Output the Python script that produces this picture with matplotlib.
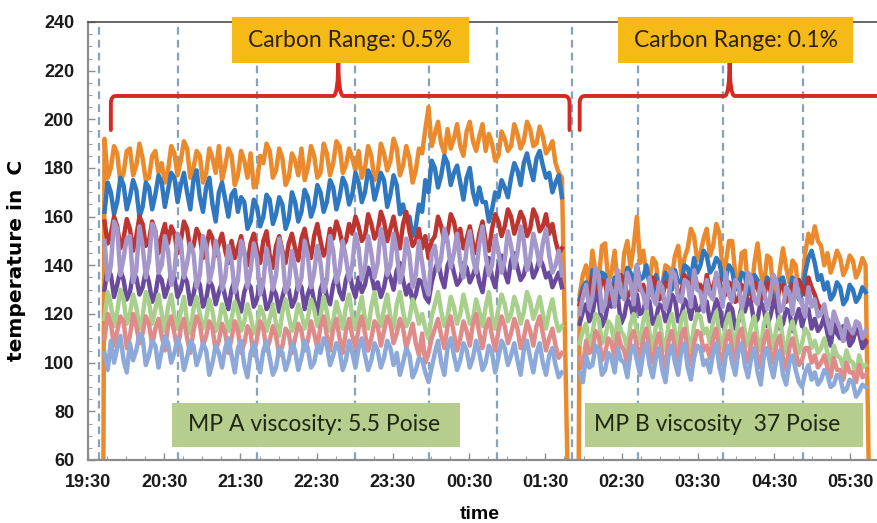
import matplotlib
matplotlib.use("Agg")
import pandas as pd
import matplotlib.pyplot as plt
import matplotlib.dates as mdates
from matplotlib.patches import Rectangle, PathPatch
from matplotlib.path import Path

# temperatures, every 2.5 min
# run A: 19:43 .. 01:43, run B: 01:57 .. 05:42
A_START = "19:43"
B_START = "01:57"
STEP = "150s"

A_ORANGE = [192, 176, 180, 189, 186, 174, 178, 187, 188, 177, 181, 190, 184, 175, 176, 185, 187, 178, 182, 174,
            179, 189, 186, 177, 183, 191, 188, 176, 180, 187, 185, 174, 178, 188, 184, 178, 189, 175, 181, 188,
            185, 173, 177, 187, 183, 176, 186, 172, 174, 185, 182, 190, 187, 176, 179, 188, 184, 173, 176, 186,
            183, 177, 188, 175, 180, 189, 185, 176, 178, 190, 186, 177, 182, 191, 189, 178, 181, 188, 184, 179,
            187, 176, 180, 189, 185, 175, 178, 190, 186, 179, 183, 192, 188, 177, 181, 189, 184, 174, 179, 188,
            186, 196, 205, 189, 194, 199, 190, 186, 196, 188, 192, 198, 189, 185, 195, 199, 191, 187, 193, 198,
            187, 194, 190, 183, 185, 195, 192, 187, 189, 198, 194, 188, 191, 199, 196, 189, 190, 197, 193, 186,
            188, 191, 182, 178, 176]
A_BLUE = [162, 174, 170, 161, 166, 176, 173, 163, 168, 175, 171, 160, 164, 174, 172, 163, 169, 177, 174, 164,
          171, 178, 176, 166, 173, 178, 170, 163, 175, 179, 168, 162, 172, 176, 165, 158, 170, 174, 167, 160,
          169, 171, 162, 168, 166, 155, 158, 167, 164, 156, 160, 169, 167, 157, 161, 168, 165, 155, 159, 170,
          166, 158, 162, 171, 168, 160, 164, 173, 170, 162, 166, 175, 172, 163, 168, 176, 173, 165, 169, 178,
          174, 166, 170, 179, 176, 167, 172, 178, 175, 164, 169, 177, 173, 161, 165, 158, 160, 152, 156, 165,
          162, 175, 170, 183, 180, 172, 177, 185, 182, 173, 178, 181, 174, 167, 176, 180, 170, 165, 172, 166,
          166, 158, 163, 170, 168, 175, 172, 168, 176, 182, 179, 173, 182, 186, 180, 175, 184, 187, 181, 176,
          178, 170, 174, 177, 168]
A_RED = [158, 149, 153, 160, 156, 147, 151, 159, 155, 146, 152, 160, 157, 148, 150, 158, 154, 145, 152, 157,
         149, 156, 153, 145, 150, 158, 155, 146, 148, 155, 152, 143, 147, 154, 151, 144, 149, 153, 146, 141,
         150, 143, 147, 152, 145, 140, 149, 153, 146, 141, 150, 154, 144, 139, 148, 152, 146, 141, 149, 153,
         147, 142, 151, 155, 148, 143, 152, 157, 150, 144, 147, 155, 151, 158, 154, 148, 150, 157, 153, 160,
         156, 150, 152, 161, 157, 151, 154, 162, 158, 150, 155, 160, 153, 147, 157, 162, 154, 148, 150, 155,
         147, 152, 143, 150, 152, 160, 156, 150, 153, 161, 158, 151, 155, 147, 151, 156, 149, 145, 153, 158,
         150, 146, 155, 161, 158, 152, 156, 163, 160, 153, 157, 162, 159, 152, 155, 163, 160, 154, 156, 161,
         153, 157, 150, 145, 147]
A_PURPLE = [130, 139, 136, 127, 132, 138, 134, 126, 129, 137, 135, 128, 131, 138, 133, 125, 128, 136, 134, 127,
            131, 137, 135, 127, 130, 136, 133, 124, 128, 135, 132, 123, 126, 134, 131, 124, 129, 133, 127, 122,
            130, 134, 125, 121, 129, 133, 131, 123, 126, 134, 130, 122, 124, 131, 128, 121, 127, 132, 130, 123,
            126, 133, 131, 122, 128, 132, 125, 120, 130, 134, 127, 124, 132, 136, 129, 126, 134, 138, 131, 127,
            135, 129, 132, 139, 136, 130, 133, 127, 131, 138, 135, 130, 138, 141, 134, 128, 132, 125, 128, 134,
            133, 127, 125, 133, 138, 142, 135, 131, 140, 143, 137, 132, 134, 141, 139, 133, 136, 140, 133, 129,
            138, 143, 135, 131, 140, 144, 137, 133, 142, 145, 139, 134, 136, 142, 141, 135, 138, 143, 140, 135,
            137, 131, 134, 137, 131]
A_LAVENDER = [150, 134, 140, 158, 155, 136, 143, 151, 152, 133, 138, 156, 148, 135, 142, 157, 154, 137, 140, 152,
              146, 132, 137, 153, 150, 135, 141, 149, 145, 131, 136, 152, 148, 133, 139, 150, 144, 130, 135, 148,
              142, 129, 134, 150, 146, 131, 138, 149, 143, 128, 133, 147, 140, 130, 136, 151, 145, 129, 132, 146,
              139, 130, 135, 150, 144, 131, 137, 148, 141, 129, 134, 152, 146, 133, 138, 150, 143, 134, 140, 153,
              147, 134, 139, 152, 145, 135, 141, 155, 149, 136, 140, 153, 146, 133, 138, 151, 144, 131, 136, 150,
              141, 132, 128, 145, 148, 138, 143, 155, 150, 139, 145, 153, 141, 135, 147, 154, 143, 137, 149, 156,
              144, 136, 140, 152, 146, 137, 142, 154, 148, 139, 145, 156, 150, 138, 143, 153, 147, 140, 149, 155,
              144, 137, 140, 146, 136]
A_GREEN = [118, 129, 124, 115, 121, 130, 126, 116, 120, 128, 123, 114, 119, 129, 125, 116, 122, 128, 120, 113,
           123, 128, 119, 114, 121, 127, 117, 112, 122, 127, 120, 114, 118, 126, 121, 113, 116, 124, 120, 113,
           118, 125, 121, 113, 117, 124, 119, 112, 115, 123, 120, 113, 118, 124, 116, 111, 121, 126, 119, 113,
           117, 124, 120, 114, 118, 126, 122, 115, 119, 127, 121, 113, 117, 125, 120, 114, 123, 128, 119, 114,
           121, 127, 118, 114, 123, 129, 120, 115, 122, 128, 119, 114, 124, 129, 121, 115, 118, 126, 122, 116,
           120, 114, 110, 119, 124, 129, 121, 115, 119, 127, 123, 116, 120, 128, 122, 116, 118, 126, 121, 115,
           123, 129, 119, 114, 122, 128, 124, 117, 120, 127, 123, 116, 121, 129, 125, 118, 122, 127, 120, 114,
           121, 126, 118, 113, 115]
A_PINK = [110, 120, 116, 107, 113, 119, 117, 106, 111, 120, 115, 108, 112, 119, 116, 107, 114, 118, 111, 105,
          115, 119, 112, 105, 114, 118, 110, 104, 113, 119, 116, 107, 111, 117, 114, 105, 109, 116, 112, 104,
          110, 117, 113, 104, 108, 115, 112, 103, 110, 117, 114, 105, 109, 115, 111, 103, 107, 114, 112, 104,
          110, 116, 113, 105, 109, 117, 112, 106, 115, 119, 111, 105, 114, 118, 110, 104, 113, 118, 111, 106,
          114, 119, 112, 105, 110, 117, 115, 107, 113, 119, 116, 108, 112, 118, 114, 106, 111, 116, 108, 103,
          112, 100, 104, 110, 114, 118, 111, 106, 115, 119, 112, 105, 110, 117, 113, 107, 116, 120, 112, 106,
          114, 118, 111, 105, 113, 119, 115, 108, 112, 118, 114, 106, 110, 117, 113, 107, 115, 119, 112, 105,
          110, 114, 107, 102, 104]
A_LIGHTBLUE = [104, 97, 109, 100, 106, 111, 101, 96, 108, 101, 105, 112, 110, 99, 103, 109, 107, 98, 105, 111,
               108, 100, 104, 110, 106, 97, 102, 109, 107, 99, 103, 108, 105, 95, 100, 107, 104, 98, 106, 110,
               103, 96, 106, 109, 99, 94, 104, 108, 101, 96, 105, 109, 102, 95, 98, 106, 104, 97, 101, 108,
               105, 97, 102, 109, 106, 98, 100, 107, 104, 110, 107, 99, 103, 108, 105, 97, 101, 109, 104, 98,
               106, 110, 103, 97, 101, 108, 105, 98, 102, 109, 106, 99, 104, 95, 100, 106, 103, 94, 97, 102,
               101, 96, 92, 98, 104, 109, 100, 95, 106, 110, 103, 97, 101, 108, 105, 98, 102, 109, 104, 97,
               100, 107, 104, 96, 102, 109, 106, 99, 103, 108, 101, 95, 105, 109, 102, 96, 104, 108, 100, 95,
               103, 106, 99, 94, 96]

B_ORANGE = [128, 136, 140, 131, 146, 137, 134, 148, 149, 133, 137, 146, 131, 128, 145, 150, 139, 148, 160, 141,
            146, 136, 134, 143, 141, 129, 132, 140, 139, 135, 144, 148, 136, 143, 147, 155, 152, 142, 145, 151,
            155, 144, 148, 157, 153, 138, 141, 150, 150, 136, 132, 145, 146, 130, 128, 141, 149, 137, 131, 144,
            143, 129, 126, 138, 147, 139, 133, 142, 140, 127, 130, 145,
            153, 149, 156, 150, 148, 140, 145, 137, 141, 146, 143, 136, 139, 144, 142, 135, 138, 143, 140]
B_BLUE = [126, 131, 133, 127, 138, 132, 131, 137, 136, 128, 129, 135, 134, 127, 130, 139, 137, 132, 140, 134,
          135, 140, 132, 128, 136, 131, 130, 137, 134, 130, 138, 133, 133, 140, 139, 134, 143, 137, 140, 146,
          144, 137, 139, 143, 141, 134, 135, 140, 138, 130, 131, 137, 136, 128, 130, 136, 134, 127, 129, 135,
          133, 126, 127, 134, 135, 129, 130, 135, 132, 126, 128, 137,
          143, 146, 141, 134, 136, 130, 133, 126, 128, 133, 131, 124, 126, 132, 130, 125, 127, 131, 129]
B_RED = [124, 129, 131, 126, 135, 130, 128, 134, 133, 125, 126, 132, 130, 136, 134, 127, 129, 132, 137, 130,
         132, 126, 128, 135, 133, 126, 127, 133, 131, 136, 135, 128, 129, 136, 134, 130, 137, 132, 132, 127,
         136, 130, 131, 136, 134, 127, 128, 133, 132, 125, 126, 132, 130, 124, 125, 133, 131, 126, 127, 133,
         130, 123, 124, 131, 132, 125, 127, 132, 129, 134, 131, 128,
         135, 131, 128, 124, 122, 119, 118, 114, 115, 117, 112, 109, 114, 111, 110, 113, 112, 108, 109]
B_PURPLE = [116, 121, 124, 117, 120, 128, 126, 115, 118, 125, 123, 129, 127, 116, 119, 126, 124, 118, 128, 120,
            121, 127, 125, 116, 118, 124, 123, 117, 120, 128, 126, 117, 119, 126, 124, 118, 127, 121, 122, 126,
            125, 117, 120, 126, 123, 115, 118, 124, 122, 114, 117, 123, 121, 126, 124, 116, 118, 125, 122, 115,
            119, 125, 123, 114, 116, 122, 121, 113, 118, 122, 115, 120,
            122, 114, 118, 113, 115, 119, 112, 107, 116, 112, 110, 115, 113, 107, 109, 114, 112, 106, 108]
B_LAVENDER = [120, 127, 132, 122, 127, 139, 136, 121, 124, 134, 130, 123, 138, 129, 126, 137, 133, 124, 140, 131,
              128, 122, 135, 127, 124, 133, 131, 122, 127, 138, 136, 126, 125, 134, 133, 123, 138, 130, 129, 121,
              134, 128, 126, 137, 131, 123, 137, 128, 125, 134, 132, 122, 128, 137, 135, 126, 124, 133, 130, 122,
              127, 136, 133, 121, 122, 131, 129, 120, 134, 127, 124, 119,
              131, 123, 126, 119, 120, 124, 117, 112, 121, 117, 114, 109, 118, 114, 112, 117, 116, 110, 113]
B_GREEN = [108, 113, 116, 106, 112, 120, 118, 108, 110, 117, 115, 107, 119, 113, 111, 105, 116, 120, 113, 108,
           117, 121, 112, 106, 115, 119, 110, 105, 116, 120, 113, 107, 118, 121, 111, 105, 115, 120, 119, 112,
           114, 108, 117, 121, 111, 106, 116, 120, 112, 107, 118, 121, 113, 107, 115, 119, 110, 105, 116, 120,
           112, 106, 115, 119, 109, 104, 113, 117, 111, 104, 108, 114,
           112, 106, 109, 104, 106, 110, 104, 99, 107, 103, 102, 98, 105, 101, 100, 95, 103, 98, 99]
B_PINK = [102, 98, 109, 104, 105, 113, 111, 101, 104, 110, 108, 102, 112, 107, 105, 99, 110, 113, 107, 101,
          110, 114, 105, 100, 108, 112, 103, 98, 109, 113, 106, 101, 111, 114, 104, 99, 108, 113, 112, 105,
          107, 102, 110, 114, 104, 99, 109, 113, 106, 101, 111, 114, 105, 100, 108, 112, 103, 98, 109, 113,
          105, 100, 108, 111, 102, 97, 106, 110, 104, 99, 101, 106,
          106, 100, 103, 98, 100, 103, 98, 94, 102, 97, 97, 93, 100, 96, 96, 92, 99, 94, 95]
B_LIGHTBLUE = [96, 92, 103, 98, 99, 107, 105, 95, 97, 104, 102, 96, 106, 101, 100, 94, 104, 107, 101, 95,
               104, 108, 99, 94, 102, 106, 97, 92, 103, 107, 100, 95, 105, 108, 98, 93, 102, 107, 106, 99,
               101, 96, 104, 108, 98, 93, 103, 107, 100, 95, 105, 108, 99, 94, 102, 106, 96, 91, 103, 106,
               99, 94, 102, 105, 95, 91, 100, 103, 97, 92, 90, 96,
               99, 93, 96, 91, 93, 97, 95, 90, 91, 95, 94, 88, 89, 93, 92, 86, 88, 91, 90]

# orange trace drops to zero at the ends of each run
FLOOR = 40
A_EDGES = ("19:42", "01:48")
B_EDGES = ("01:56", "05:45")

SERIES = [
    ("#EB8A2C", A_ORANGE, B_ORANGE),
    ("#2F77BE", A_BLUE, B_BLUE),
    ("#BD3530", A_RED, B_RED),
    ("#6A4A9C", A_PURPLE, B_PURPLE),
    ("#A597C9", A_LAVENDER, B_LAVENDER),
    ("#A8CF8B", A_GREEN, B_GREEN),
    ("#DE8B8A", A_PINK, B_PINK),
    ("#8DA9D9", A_LIGHTBLUE, B_LIGHTBLUE),
]

EVENTS = ["19:39", "20:41", "21:43", "23:00", "23:58", "00:52",
          "01:51", "02:43", "03:50", "04:53"]
X_TICKS = ["19:30", "20:30", "21:30", "22:30", "23:30", "00:30",
           "01:30", "02:30", "03:30", "04:30", "05:30"]
Y_TICKS = [60, 80, 100, 120, 140, 160, 180, 200, 220, 240]


def t(hhmm):
    h, m = map(int, hhmm.split(":"))
    day = pd.Timestamp("2000-01-01") + pd.Timedelta(days=1 if h < 12 else 0)
    return day + pd.Timedelta(hours=h, minutes=m)


def dn(hhmm):
    return mdates.date2num(t(hhmm))


def brace(ax, x0, xm, x1, ylo, ymid, ytop, rx, color):
    verts = [(x0, ylo), (x0, ymid - 3), (x0, ymid), (x0 + rx, ymid),
             (xm - rx, ymid), (xm, ymid), (xm, ytop),
             (xm, ymid), (xm + rx, ymid),
             (x1 - rx, ymid), (x1, ymid), (x1, ymid - 3), (x1, ylo)]
    codes = [Path.MOVETO, Path.LINETO, Path.CURVE3, Path.CURVE3,
             Path.LINETO, Path.CURVE3, Path.CURVE3, Path.CURVE3, Path.CURVE3,
             Path.LINETO, Path.CURVE3, Path.CURVE3, Path.LINETO]
    ax.add_patch(PathPatch(Path(verts, codes), fill=False, edgecolor=color,
                           lw=2.8, capstyle="round", joinstyle="round", zorder=6))


def box(ax, x0, x1, y0, y1, color):
    ax.add_patch(Rectangle((dn(x0), y0), dn(x1) - dn(x0), y1 - y0,
                           facecolor=color, edgecolor="none", zorder=7, clip_on=False))


plt.rcParams["font.family"] = ["Liberation Sans", "DejaVu Sans"]

fig = plt.figure(figsize=(8.77, 5.23), dpi=100)
ax = fig.add_axes([88 / 877, 1 - 460 / 523, (877 - 88) / 877, (460 - 22) / 523])

for ev in EVENTS:
    ax.axvline(t(ev), color="#86A2BE", lw=1.6, ls=(0, (3.5, 2.3)), zorder=1)

for i, (color, a_vals, b_vals) in enumerate(SERIES):
    a_x = list(pd.date_range(t(A_START), periods=len(a_vals), freq=STEP))
    b_x = list(pd.date_range(t(B_START), periods=len(b_vals), freq=STEP))
    a_y, b_y = list(a_vals), list(b_vals)
    if i == 0:
        a_x = [t(A_EDGES[0])] + a_x + [t(A_EDGES[1])]
        a_y = [FLOOR] + a_y + [FLOOR]
        b_x = [t(B_EDGES[0])] + b_x + [t(B_EDGES[1])]
        b_y = [FLOOR] + b_y + [FLOOR]
    ax.plot(a_x, a_y, color=color, lw=3.2, zorder=2 + i * 0.1)
    ax.plot(b_x, b_y, color=color, lw=3.2, zorder=2 + i * 0.1)

ax.set_xlim(t("19:30"), t("19:30") + pd.Timedelta(minutes=621))
ax.set_ylim(60, 240)
ax.set_xticks([t(s) for s in X_TICKS])
ax.set_xticklabels(X_TICKS)
ax.xaxis.set_minor_locator(mdates.MinuteLocator(byminute=[0, 15, 45]))
ax.set_yticks(Y_TICKS)
ax.set_yticks(range(60, 241, 5), minor=True)
ax.tick_params(which="major", direction="in", length=5, width=1, color="#8C8C8C",
               labelsize=13, pad=10, labelcolor="#1A1A1A")
ax.tick_params(which="minor", direction="in", length=3, width=0.8, color="#A0A0A0")
for lab in ax.get_xticklabels() + ax.get_yticklabels():
    lab.set_fontweight("bold")

for side in ("left", "bottom"):
    ax.spines[side].set_color("#8C8C8C")
    ax.spines[side].set_linewidth(1.6)
ax.spines["top"].set_color("#4D4D4D")
ax.spines["top"].set_linewidth(1.2)
ax.spines["right"].set_visible(False)

ax.set_ylabel("temperature in  C", fontsize=14.5, fontweight="bold",
              family=["DejaVu Sans"])
ax.yaxis.set_label_coords(-0.078, 0.455)
ax.set_xlabel("time", fontsize=14, fontweight="bold")
ax.xaxis.set_label_coords(0.497, -0.105)

# carbon range braces and boxes
rx = mdates.date2num(t("19:34")) - mdates.date2num(t("19:30"))
brace(ax, dn("19:48"), dn("22:47"), dn("01:49"), 195.6, 209.6, 225.2, rx, "#D42A22")
brace(ax, dn("01:57"), dn("03:55"), dn("06:40"), 195.6, 209.6, 225.2, rx, "#D42A22")

box(ax, "21:23", "00:30", 223.1, 242.0, "#F6BA16")
box(ax, "02:27", "05:32", 223.1, 242.0, "#F6BA16")
ax.text(t("22:56"), 232.6, "Carbon Range: 0.5%", fontsize=16.5, family="Lato",
        color="#2B2110", ha="center", va="center", zorder=8)
ax.text(t("04:00"), 232.6, "Carbon Range: 0.1%", fontsize=16.5, family="Lato",
        color="#2B2110", ha="center", va="center", zorder=8)

box(ax, "20:36", "00:23", 65.3, 83.4, "#B5CD8D")
box(ax, "02:01", "05:40", 65.3, 83.4, "#B5CD8D")
ax.text(t("20:49"), 74.4, "MP A viscosity: 5.5 Poise", fontsize=16.5, family="Lato",
        color="#1E2812", ha="left", va="center", zorder=8)
ax.text(t("02:08"), 74.4, "MP B viscosity  37 Poise", fontsize=16.5, family="Lato",
        color="#1E2812", ha="left", va="center", zorder=8)

fig.savefig("out.png", dpi=100)
